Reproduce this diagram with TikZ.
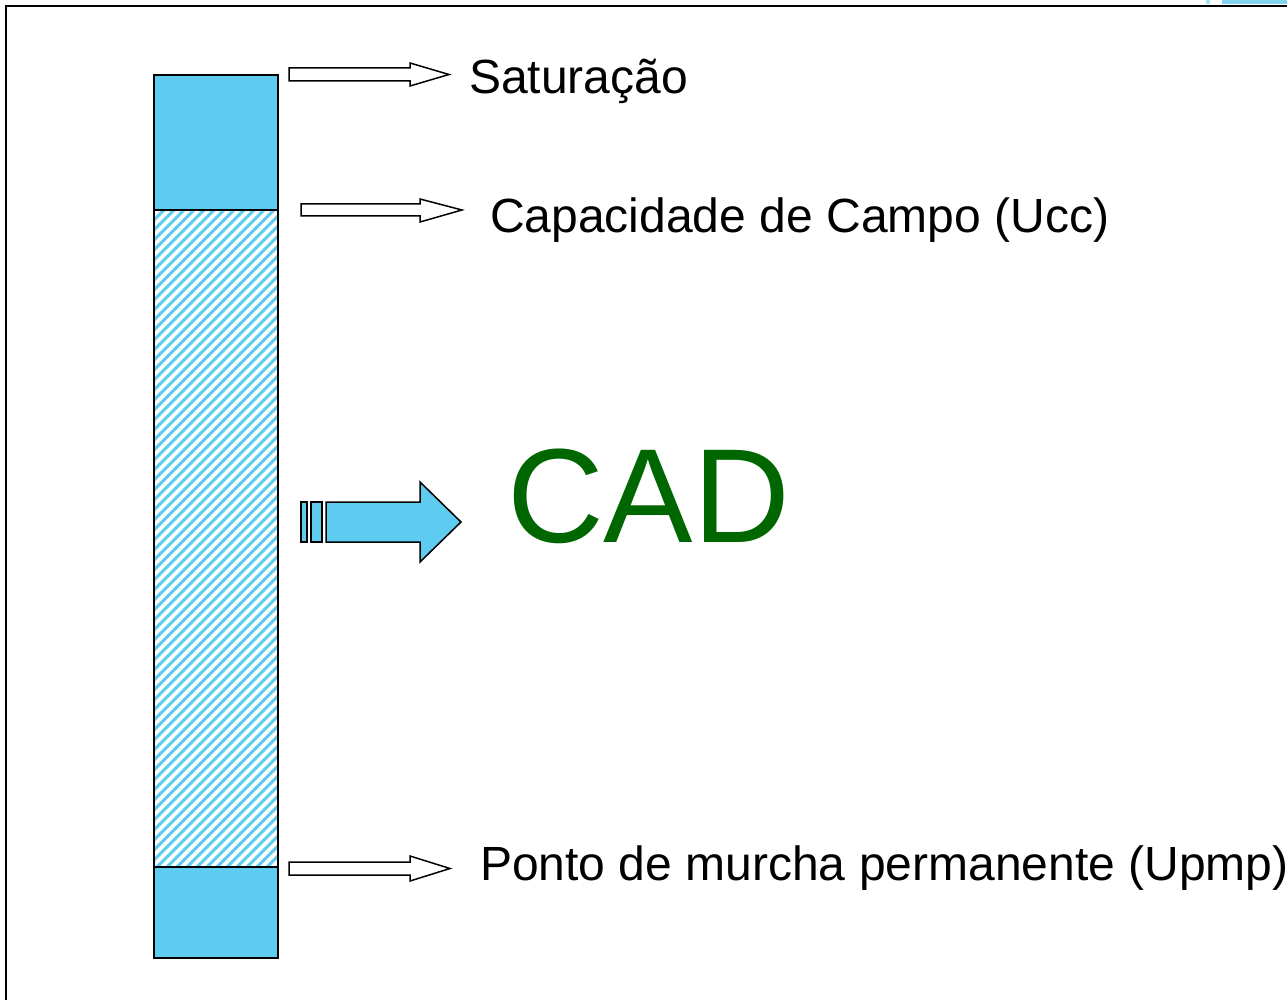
\documentclass[tikz,border=0pt]{standalone}
\usepackage{fontspec}
\setmainfont{Liberation Sans}
\definecolor{sky}{RGB}{94,203,240}
\definecolor{logo}{RGB}{130,212,240}
\definecolor{cadgreen}{RGB}{0,102,0}
\begin{document}
\begin{tikzpicture}[x=1pt,y=-1pt,
  lbl/.style={anchor=base west,inner sep=0pt,font=\fontsize{48}{57}\selectfont},
  blk/.style={draw=black,line width=1.5pt,line join=miter},
  bararrow/.style={draw=black,line width=1.5pt,fill=white,line join=miter}]
\useasboundingbox (0,0) rectangle (1287,1000);
% frame
\draw[line width=2pt] (6,1000) -- (6,6) -- (1287,6);
\fill[logo] (1222,0) rectangle (1287,4.5);
\fill[logo!70] (1206,0) rectangle (1210,4.5);
% bar
\fill[sky] (154,75) rectangle (278,210);
\fill[sky] (154,867) rectangle (278,958);
\begin{scope}
\clip (154,210) rectangle (278,867);
\foreach \c in {354,364,...,1160}{
  \draw[sky,line width=3pt] (150,\c-150) -- (282,\c-282);
}
\end{scope}
\draw[blk] (154,75) rectangle (278,958);
\draw[blk] (154,210) -- (278,210);
\draw[blk] (154,867) -- (278,867);
% thin arrows
\draw[bararrow] (289,68) -- (410,68) -- (410,63) -- (449,74.5) -- (410,86) -- (410,81) -- (289,81) -- cycle;
\draw[bararrow] (301,204) -- (420,204) -- (420,199) -- (462,210) -- (420,222) -- (420,216) -- (301,216) -- cycle;
\draw[bararrow] (289,862) -- (410,862) -- (410,856) -- (450,868.5) -- (410,881) -- (410,875) -- (289,875) -- cycle;
% CAD arrow
\draw[blk,fill=sky] (301,502) rectangle (307,542);
\draw[blk,fill=sky] (311,502) rectangle (322,542);
\draw[blk,fill=sky] (326,502) -- (420,502) -- (420,482) -- (461,522) -- (420,562) -- (420,542) -- (326,542) -- cycle;
% labels
\node[lbl] (sat) at (469,94) {Saturação};
\node[lbl] (ucc) at (490,233) {Capacidade de Campo (Ucc)};
\node[lbl] (pmp) at (480,880) {Ponto de murcha permanente (Upmp)};
\node[anchor=base west,inner sep=0pt,text=cadgreen,font=\fontsize{134}{150}\selectfont] (cad) at (507,542) {CAD};
\end{tikzpicture}
\end{document}
